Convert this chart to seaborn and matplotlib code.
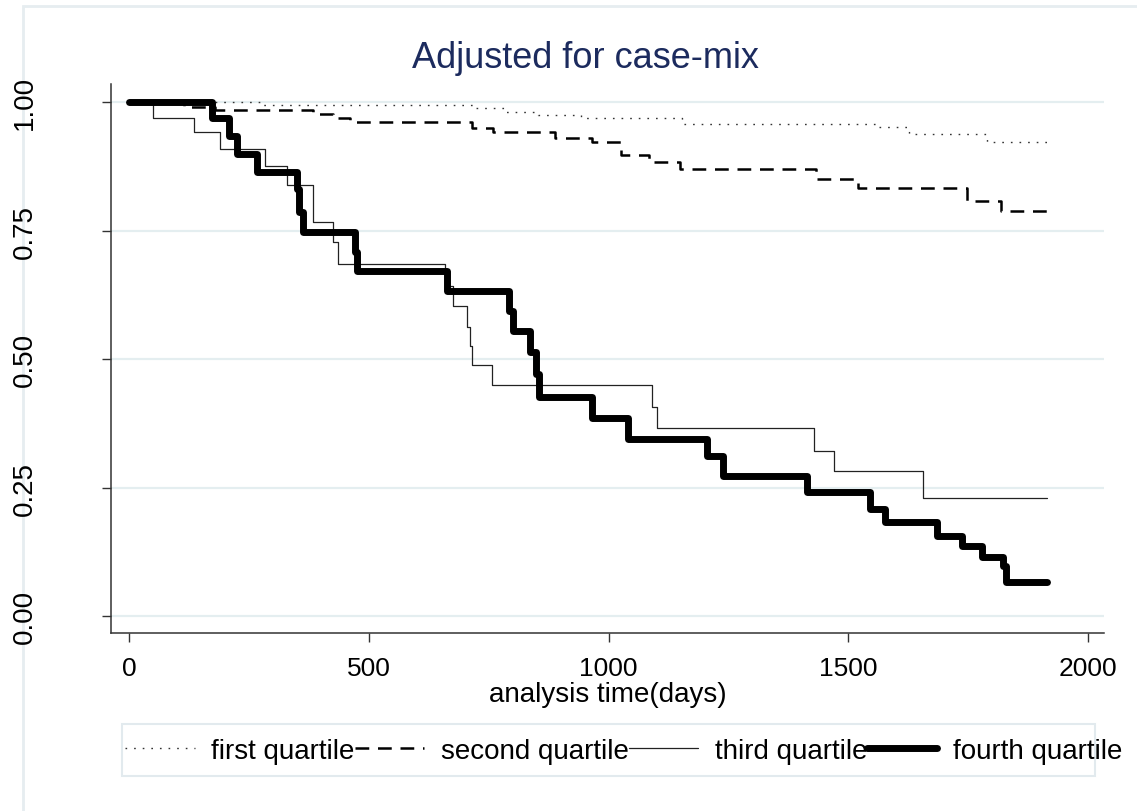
import numpy as np
import pandas as pd
import matplotlib
matplotlib.use("Agg")
import matplotlib.pyplot as plt
from matplotlib.patches import Rectangle
import seaborn as sns

# step curves: time of each step (days) and survival value after the step
t_q1 = [0, 273, 722, 787, 852, 943, 1154, 1558, 1627, 1789, 1914]
s_q1 = [1.0, 0.994, 0.988, 0.980, 0.975, 0.968, 0.958, 0.951, 0.938, 0.922, 0.922]

t_q2 = [0, 115, 180, 384, 425, 460, 715, 759, 889, 965, 1025, 1085, 1149,
        1432, 1520, 1747, 1819, 1914]
s_q2 = [1.0, 0.990, 0.985, 0.977, 0.968, 0.962, 0.949, 0.941, 0.930, 0.922,
        0.897, 0.884, 0.870, 0.851, 0.832, 0.808, 0.787, 0.787]

t_q3 = [0, 50, 135, 190, 284, 329, 384, 426, 436, 659, 676, 705, 712, 716,
        757, 1091, 1101, 1429, 1469, 1656, 1914]
s_q3 = [1.0, 0.969, 0.942, 0.909, 0.875, 0.839, 0.767, 0.728, 0.685, 0.642,
        0.603, 0.562, 0.525, 0.488, 0.449, 0.407, 0.366, 0.321, 0.282, 0.229, 0.229]

t_q4 = [0, 173, 208, 225, 267, 350, 355, 362, 471, 475, 663, 792, 800, 836,
        849, 855, 965, 1041, 1205, 1238, 1414, 1545, 1577, 1685, 1737, 1779,
        1823, 1828, 1914]
s_q4 = [1.0, 0.969, 0.934, 0.899, 0.864, 0.831, 0.786, 0.747, 0.708, 0.671,
        0.632, 0.593, 0.554, 0.514, 0.471, 0.426, 0.385, 0.344, 0.311, 0.272,
        0.241, 0.208, 0.183, 0.156, 0.136, 0.115, 0.097, 0.066, 0.066]

labels = ["first quartile", "second quartile", "third quartile", "fourth quartile"]
x_ticks = [0, 500, 1000, 1500, 2000]
y_ticks = [0.0, 0.25, 0.5, 0.75, 1.0]
y_ticklabels = ["0.00", "0.25", "0.50", "0.75", "1.00"]

sns.set_style("white")
plt.rcParams["font.family"] = ["Liberation Sans", "DejaVu Sans"]
plt.rcParams["text.color"] = "black"
plt.rcParams["axes.labelcolor"] = "black"

W, H = 1137, 812
fig = plt.figure(figsize=(W / 100, H / 100), dpi=100)
ax = fig.add_axes([111 / W, 1 - 634 / H, (1104 - 111) / W, (634 - 85) / H])

styles = [
    dict(color="#333333", lw=1.0, ls=(0, (1.2, 5))),
    dict(color="black", lw=1.8, ls=(0, (5.5, 3.5))),
    dict(color="#222222", lw=0.9, ls="-"),
    dict(color="black", lw=5, ls="-"),
]
series = [(t_q1, s_q1), (t_q2, s_q2), (t_q3, s_q3), (t_q4, s_q4)]
for (t, s), lab, st in zip(series, labels, styles):
    df = pd.DataFrame({"time": t, "surv": s})
    sns.lineplot(data=df, x="time", y="surv", ax=ax, estimator=None, sort=False,
                 drawstyle="steps-post", label=lab, color=st["color"],
                 linewidth=st["lw"], linestyle=st["ls"])

ax.set_xlim(-37.5, 2033)
ax.set_ylim(-0.033, 1.035)
ax.set_xticks(x_ticks)
ax.set_xticklabels([str(v) for v in x_ticks])
ax.set_yticks(y_ticks)
ax.set_yticklabels(y_ticklabels, rotation=90, va="center")

ax.grid(axis="y", color="#e4eef0", linewidth=1.6)
ax.grid(axis="x", visible=False)
ax.set_axisbelow(True)

for side in ["top", "right"]:
    ax.spines[side].set_visible(False)
for side in ["left", "bottom"]:
    ax.spines[side].set_color("#333333")
    ax.spines[side].set_linewidth(1.1)

ax.tick_params(axis="both", direction="out", length=6.5, width=1, color="#333333",
               labelsize=19, labelcolor="black")
ax.tick_params(axis="x", pad=10, bottom=True)
ax.tick_params(axis="y", pad=46, left=True, labelsize=20)

ax.set_xlabel("analysis time(days)", fontsize=20, labelpad=1)
ax.set_ylabel("")

fig.text(585 / W, 1 - 58 / H, "Adjusted for case-mix", fontsize=26,
         color="#1c2b5e", ha="center", va="center")

ax.legend(loc="center", bbox_to_anchor=(624 / W, 1 - 752 / H),
          bbox_transform=fig.transFigure, ncol=4, frameon=False, fontsize=20,
          handlelength=2.5, handletextpad=0.6, columnspacing=0.0)

# legend box and outer graph region frame, kept behind everything
fig.patches.append(Rectangle((122 / W, 1 - 777 / H), (1095 - 122) / W, 52 / H,
                             transform=fig.transFigure, fill=False,
                             edgecolor="#e2eaee", linewidth=1.5, zorder=-1))
fig.patches.append(Rectangle((23 / W, -0.02), 1.0, 1 - 7 / H + 0.02,
                             transform=fig.transFigure, fill=False,
                             edgecolor="#e6edf0", linewidth=2, zorder=-1))

fig.savefig("out.png", dpi=100)
